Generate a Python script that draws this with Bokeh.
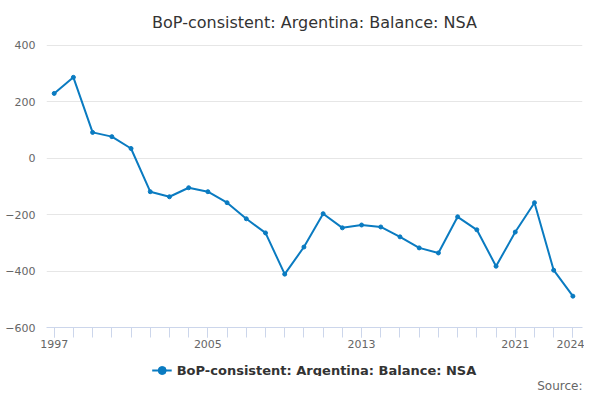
from bokeh.plotting import figure
from bokeh.layouts import column
from bokeh.models import FixedTicker, Legend, LegendItem, Title
from bokeh.embed import file_html
from bokeh.resources import INLINE

years = list(range(1997, 2025))
values = [229, 286, 91, 76, 34, -119, -137, -105, -119, -158, -215, -265, -411, -315,
          -197, -247, -237, -244, -279, -318, -336, -208, -254, -383, -262, -158, -397, -489]
major_ticks = [1997, 2005, 2013, 2021, 2024]
y_ticks = [-600, -400, -200, 0, 200, 400]
color = "#0a7bc1"

p = figure(width=584, height=350, output_backend="svg", toolbar_location=None,
           x_range=(1996.6, 2024.5), y_range=(-600, 420),
           min_border_left=46, min_border_right=2, min_border_top=39, min_border_bottom=20)
p.title.text = "BoP-consistent: Argentina: Balance: NSA"
p.title.align = "center"
p.title.text_font = "DejaVu Sans"
p.title.text_font_size = "16px"
p.title.text_font_style = "normal"
p.title.text_color = "#333333"
p.title.standoff = 16

p.line(years, values, line_color=color, line_width=2)
p.scatter(years, values, color=color, size=4)

p.xaxis.ticker = FixedTicker(ticks=major_ticks, minor_ticks=years)
p.yaxis.ticker = FixedTicker(ticks=y_ticks)
p.xgrid.grid_line_color = None
p.ygrid.grid_line_color = "#e6e6e6"
p.yaxis.axis_line_color = None
p.yaxis.major_tick_line_color = None
p.yaxis.minor_tick_line_color = None
p.xaxis.axis_line_color = "#ccd6eb"
p.xaxis.major_tick_line_color = "#ccd6eb"
p.xaxis.minor_tick_line_color = "#ccd6eb"
p.xaxis.major_tick_out = 10
p.xaxis.minor_tick_out = 10
p.xaxis.major_tick_in = 0
p.xaxis.minor_tick_in = 0
p.xaxis.major_label_standoff = 2
for ax in (p.xaxis, p.yaxis):
    ax.major_label_text_font = "DejaVu Sans"
    ax.major_label_text_font_size = "11px"
    ax.major_label_text_color = "#666666"
p.outline_line_color = None

# legend panel
q = figure(width=584, height=32, output_backend="svg", toolbar_location=None,
           x_range=(0, 1), y_range=(0, 1), min_border=0)
q.axis.visible = False
q.grid.visible = False
q.outline_line_color = None
l1 = q.line(years, values, line_color=color, line_width=2)
l2 = q.scatter(years, values, color=color, size=4)
legend = Legend(items=[LegendItem(label="BoP-consistent: Argentina: Balance: NSA", renderers=[l1, l2])],
                location="top_center", orientation="horizontal", border_line_color=None,
                background_fill_alpha=0, margin=0, padding=2,
                label_text_font="DejaVu Sans", label_text_font_size="13px",
                label_text_font_style="bold", label_text_color="#333333")
q.add_layout(legend, "center")
q.add_layout(Title(text="Source:", align="right", text_font="DejaVu Sans",
                   text_font_size="12px", text_font_style="normal",
                   text_color="#666666", standoff=0), "below")

open("out.html", "w").write(file_html(column(p, q, spacing=10), INLINE))
